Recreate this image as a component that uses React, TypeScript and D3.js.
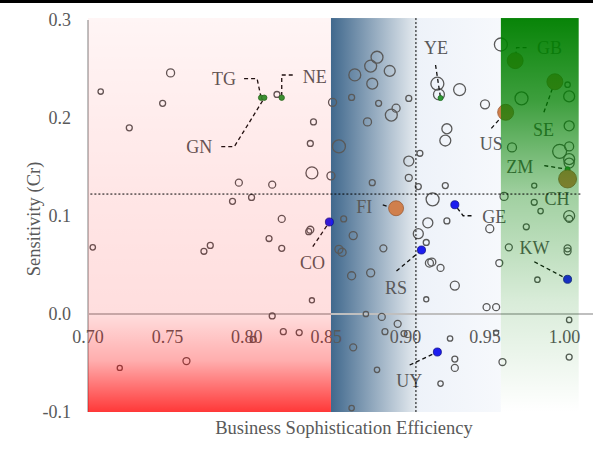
import * as d3 from "d3";

const W = 593;
const H = 452;
const margin = { top: 20, right: 29, bottom: 40, left: 88 };

// unlabelled economies: efficiency, sensitivity, bubble weight
const effX = [
  0.708, 0.752, 0.747, 0.726, 0.819, 0.795, 0.816, 0.791, 0.803, 0.822,
  0.703, 0.814, 0.822, 0.773, 0.777, 0.816, 0.823, 0.833, 0.804, 0.762,
  0.72, 0.841, 0.842, 0.84, 0.84, 0.839, 0.841, 0.854, 0.853, 0.882,
  0.878, 0.868, 0.89, 0.879, 0.866, 0.883, 0.902, 0.894, 0.891, 0.876,
  0.858, 0.92, 0.921, 0.934, 0.95, 0.926, 0.925, 0.909, 0.902, 0.902,
  0.908, 0.879, 0.925, 0.917, 0.861, 0.867, 0.914, 0.926, 0.953, 0.908,
  0.913, 0.858, 0.86, 0.886, 0.915, 0.9165, 0.922, 0.959, 0.866, 0.878,
  0.931, 0.913, 0.951, 0.957, 0.875, 0.885, 0.895, 0.887, 0.899, 0.928,
  0.957, 0.867, 0.931, 0.931, 0.961, 0.882, 0.922, 0.866, 0.96, 0.962,
  1.002, 1.003, 0.973, 1.003, 0.967, 1.003, 0.997, 1.003, 1.003, 0.981,
  0.981, 0.985, 1.003, 1.003, 0.976, 0.965, 1.002, 1.002, 0.983, 1.003,
  1.003,
];
const sensY = [
  0.227, 0.246, 0.215, 0.19, 0.224, 0.134, 0.132, 0.115, 0.119, 0.097,
  0.068, 0.077, 0.067, 0.064, 0.07, -0.002, -0.018, -0.019, -0.026, -0.048,
  -0.055, 0.144, 0.196, 0.174, 0.086, 0.084, 0.014, 0.216, 0.141, 0.262,
  0.253, 0.244, 0.248, 0.235, 0.221, 0.215, 0.22, 0.21, 0.203, 0.196,
  0.171, 0.235, 0.224, 0.229, 0.214, 0.189, 0.177, 0.164, 0.156, 0.139,
  0.13, 0.134, 0.131, 0.117, 0.097, 0.08, 0.093, 0.095, 0.087, 0.082,
  0.073, 0.066, 0.063, 0.067, 0.052, 0.053, 0.047, 0.052, 0.039, 0.042,
  0.029, 0.015, 0.007, 0.007, 0.0, -0.003, -0.01, -0.018, -0.02, -0.025,
  -0.019, -0.034, -0.046, -0.055, -0.049, -0.057, -0.071, -0.096, 0.275, 0.12,
  0.234, 0.222, 0.22, 0.192, 0.17, 0.171, 0.166, 0.158, 0.154, 0.131,
  0.114, 0.105, 0.1, 0.097, 0.089, 0.068, 0.067, 0.064, 0.035, -0.006,
  -0.044,
];
const weight = [
  9, 20, 11, 11, 11, 15, 15, 11, 11, 15,
  9, 11, 11, 11, 11, 11, 11, 11, 11, 15,
  8, 44, 11, 11, 15, 11, 8, 20, 20, 44,
  44, 44, 37, 37, 11, 11, 11, 20, 44, 20,
  52, 52, 37, 44, 25, 31, 37, 11, 31, 15,
  11, 11, 11, 52, 11, 20, 31, 11, 20, 31,
  11, 20, 20, 15, 20, 20, 15, 15, 20, 20,
  25, 8, 15, 15, 9, 15, 15, 11, 11, 9,
  8, 15, 11, 15, 15, 9, 9, 9, 52, 20,
  9, 37, 52, 31, 25, 25, 60, 37, 31, 8,
  11, 9, 37, 15, 11, 15, 15, 15, 9, 9,
  11,
];

// highlighted economies
const hiCodes = ["TG", "GN", "NE", "YE", "ZM", "GB", "SE", "US", "CH", "FI", "CO", "GE", "RS", "UY", "KW"];
const hiX = [0.809, 0.811, 0.822, 0.922, 1.002, 0.969, 0.994, 0.963, 1.002, 0.894, 0.852, 0.931, 0.91, 0.92, 1.002];
const hiY = [0.2207, 0.2207, 0.2207, 0.2204, 0.1477, 0.2585, 0.237, 0.2058, 0.1378, 0.1079, 0.0939, 0.1115, 0.0653, -0.0388, 0.0354];
const hiWeight = [9, 9, 9, 8, 8, 79, 79, 79, 100, 69, 20, 20, 20, 20, 20];
const hiGroup = ["g", "g", "g", "g", "g", "o", "o", "o", "o", "o", "b", "b", "b", "b", "b"];

const xTicks = [0.7, 0.75, 0.8, 0.85, 0.9, 0.95, 1.0];
const yTicks = [-0.1, 0.0, 0.1, 0.2, 0.3];
const meanX = 0.9065;
const meanY = 0.1224;
const bandEdges = [0.7, 0.853, 0.96, 1.009];

// label placement: text offset and leader elbows, in px from the point
const labelLayout: Record<string, { dx: number; dy: number; path: [number, number][] }> = {
  TG: { dx: -37, dy: -19, path: [[-17, -19], [-4, -19], [0, 0]] },
  GN: { dx: -65, dy: 49, path: [[-43, 49], [-30, 49], [-1, 2]] },
  NE: { dx: 33, dy: -21, path: [[11, -22.7], [0, -22.7], [0, -2]] },
  YE: { dx: -4.6, dy: -50, path: [[-5, -33], [0, 0]] },
  GB: { dx: 34.4, dy: -13, path: [[11.4, -13], [1.4, -13], [0, 0]] },
  SE: { dx: -11.3, dy: 48.3, path: [[-11, 30.6], [0, 0]] },
  US: { dx: -14.3, dy: 32, path: [[-14.3, 16], [0, 0]] },
  ZM: { dx: -47.8, dy: -2, path: [[-23.3, -3.6], [0, 0]] },
  CH: { dx: -10.6, dy: 20.3, path: [] },
  FI: { dx: -31.8, dy: -1.6, path: [[-13.3, -3.3], [-2, 0]] },
  GE: { dx: 39.5, dy: 12, path: [[16.7, 11], [8.3, 11], [0, 0]] },
  CO: { dx: -16.8, dy: 40.7, path: [[-16.6, 24.7], [0, 0]] },
  RS: { dx: -25.5, dy: 38.3, path: [[-25, 21], [0, 0]] },
  UY: { dx: -28.2, dy: 28.7, path: [[-27.7, 13], [0, 0]] },
  KW: { dx: -33, dy: -31, path: [[-33.3, -17.6], [0, 0]] },
};

const fillOf: Record<string, string> = { g: "#2f9a35", o: "#d07f4c", b: "#1d1df0" };
const edgeOf: Record<string, string> = { g: "#1e6e22", o: "#9a5a34", b: "#10108a" };

const FONT = "'Liberation Serif', 'Times New Roman', serif";
const GREY = "#595959";

export default function App() {
  const x = d3.scaleLinear().domain([0.7, 1.0]).range([margin.left, 564.4]);
  const y = d3.scaleLinear().domain([-0.1, 0.3]).range([H - margin.bottom, margin.top]);
  const r = d3.scaleSqrt().domain([0, 100]).range([0, 9]);
  const fmtX = d3.format(".2f");
  // plain hyphen for negatives, like the original
  const fmtY = (v: number) => d3.format(".1f")(v).replace("\u2212", "-");

  const bandTop = y(0.302);
  const bandBottom = y(-0.1);
  const bandH = bandBottom - bandTop;

  const plain = effX.map((v, i) => ({ x: v, y: sensY[i], w: weight[i] }));
  const hi = hiCodes.map((c, i) => ({ code: c, x: hiX[i], y: hiY[i], w: hiWeight[i], g: hiGroup[i] }));
  const line = d3.line<[number, number]>();

  return (
    <svg width={W} height={H} style={{ position: "absolute", left: 0, top: 0, background: "#fff" }} fontFamily={FONT}>
      <defs>
        <linearGradient id="redBand" x1="0" y1="0" x2="0" y2="1">
          <stop offset="0" stopColor="#ff0000" stopOpacity={0.04} />
          <stop offset="0.46" stopColor="#ff0000" stopOpacity={0.1} />
          <stop offset="0.75" stopColor="#ff0000" stopOpacity={0.13} />
          <stop offset="0.87" stopColor="#ff0000" stopOpacity={0.32} />
          <stop offset="1" stopColor="#ff0000" stopOpacity={0.78} />
        </linearGradient>
        <linearGradient id="blueBand" x1="0" y1="0" x2="1" y2="0">
          <stop offset="0" stopColor="#1f4e79" stopOpacity={0.85} />
          <stop offset="0.5" stopColor="#1f4e79" stopOpacity={0.12} />
          <stop offset="0.52" stopColor="#2a62b8" stopOpacity={0.08} />
          <stop offset="1" stopColor="#2a62b8" stopOpacity={0.04} />
        </linearGradient>
        <linearGradient id="greenBand" x1="0" y1="0" x2="0" y2="1">
          <stop offset="0" stopColor="#008000" stopOpacity={0.97} />
          <stop offset="0.21" stopColor="#008000" stopOpacity={0.76} />
          <stop offset="0.45" stopColor="#008000" stopOpacity={0.37} />
          <stop offset="0.72" stopColor="#008000" stopOpacity={0.15} />
          <stop offset="1" stopColor="#008000" stopOpacity={0} />
        </linearGradient>
      </defs>

      <rect x={0} y={0} width={W} height={3} fill="#000" />

      {/* blue band sits under the marks */}
      <rect x={x(bandEdges[1])} y={bandTop} width={x(bandEdges[2]) - x(bandEdges[1])} height={bandH} fill="url(#blueBand)" />

      {/* axes */}
      <line x1={x(0.7)} x2={x(0.7)} y1={y(0.3)} y2={y(-0.1)} stroke="#bfbfbf" strokeWidth={2} />
      <line x1={x(0.7)} x2={W} y1={y(0)} y2={y(0)} stroke="#bfbfbf" strokeWidth={2} />

      {yTicks.map((t) => (
        <text key={t} x={71} y={y(t) + 6} textAnchor="end" fontSize={18} fill={GREY}>
          {fmtY(t)}
        </text>
      ))}
      {xTicks.map((t) => (
        <text key={t} x={x(t)} y={y(0) + 29} textAnchor="middle" fontSize={18} fill={GREY}>
          {fmtX(t)}
        </text>
      ))}

      {plain.map((d, i) => (
        <circle key={i} cx={x(d.x)} cy={y(d.y)} r={r(d.w)} fill="none" stroke={GREY} strokeWidth={1.3} />
      ))}

      {hi.map((d) => {
        const px = x(d.x);
        const py = y(d.y);
        const L = labelLayout[d.code];
        const pts = L.path.map(([a, b]) => [px + a, py + b] as [number, number]);
        return (
          <g key={d.code}>
            {pts.length > 0 && (
              <path d={line(pts) || ""} fill="none" stroke="#111" strokeWidth={1.3} strokeDasharray="4,3" />
            )}
            <text x={px + L.dx} y={py + L.dy + 6} textAnchor="middle" fontSize={18} fill={GREY}>
              {d.code}
            </text>
          </g>
        );
      })}

      {hi.map((d) => (
        <circle key={d.code} cx={x(d.x)} cy={y(d.y)} r={r(d.w)} fill={fillOf[d.g]} stroke={edgeOf[d.g]} strokeWidth={0.8} />
      ))}

      {/* red and green bands wash over the marks */}
      <rect x={x(bandEdges[0])} y={bandTop} width={x(bandEdges[1]) - x(bandEdges[0])} height={bandH} fill="url(#redBand)" />
      <rect x={x(bandEdges[2])} y={bandTop} width={x(bandEdges[3]) - x(bandEdges[2])} height={bandH} fill="url(#greenBand)" />

      {/* mean reference lines */}
      <line x1={x(meanX)} x2={x(meanX)} y1={bandTop} y2={bandBottom} stroke="#000" strokeWidth={1} strokeDasharray="2,2" />
      <line x1={x(0.7015)} x2={x(1.0105)} y1={y(meanY)} y2={y(meanY)} stroke="#000" strokeWidth={1} strokeDasharray="2,2" />

      <text x={344} y={434} textAnchor="middle" fontSize={18.5} fill={GREY}>
        Business Sophistication Efficiency
      </text>
      <text transform={`translate(40,219) rotate(-90)`} textAnchor="middle" fontSize={18.5} fill={GREY}>
        Sensitivity (Cr)
      </text>
    </svg>
  );
}
